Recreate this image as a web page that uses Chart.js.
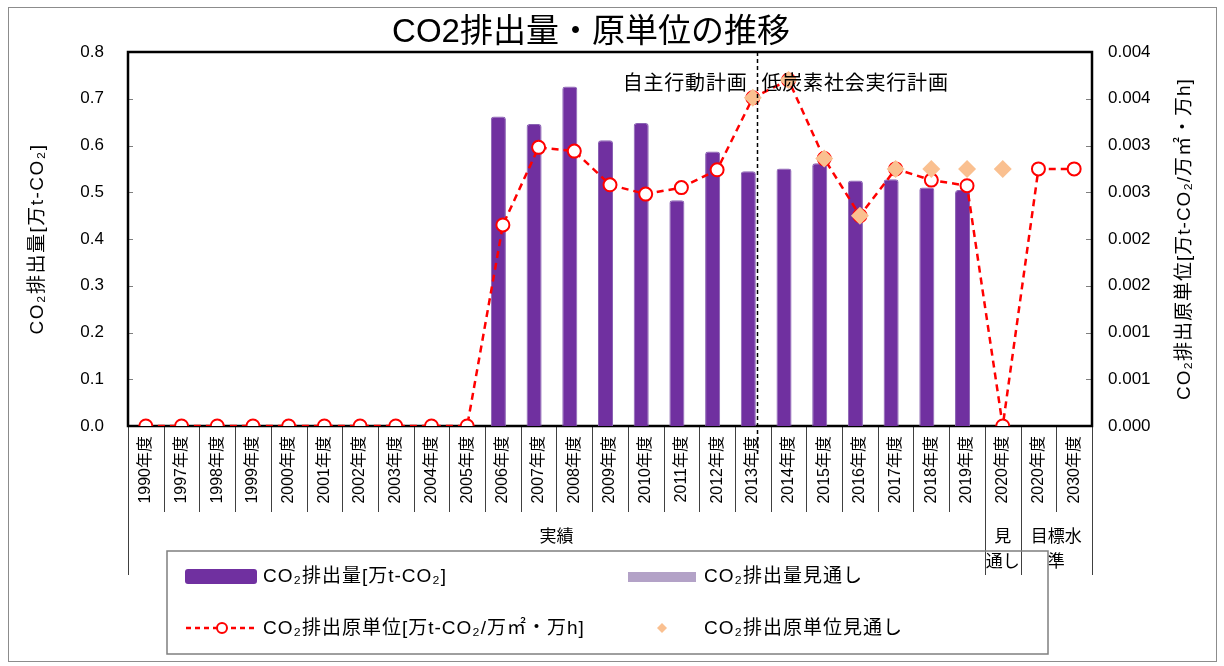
<!DOCTYPE html>
<html>
<head>
<meta charset="utf-8">
<script src="https://cdn.jsdelivr.net/npm/chart.js@4.4.0/dist/chart.umd.min.js"></script>
<style>
  html, body { margin: 0; padding: 0; background: #fff; }
  #wrap { width: 1224px; height: 666px; position: relative; }
</style>
</head>
<body>
<div id="wrap"><canvas id="myChart"></canvas></div>
<script>
// categories (fiscal years)
const categories = ['1990年度', '1997年度', '1998年度', '1999年度', '2000年度', '2001年度', '2002年度', '2003年度', '2004年度', '2005年度',
    '2006年度', '2007年度', '2008年度', '2009年度', '2010年度', '2011年度', '2012年度', '2013年度', '2014年度', '2015年度',
    '2016年度', '2017年度', '2018年度', '2019年度', '2020年度', '2020年度', '2030年度'];

// CO2 emissions [万t-CO2]
const emissions = [null, null, null, null, null, null, null, null, null, null,
    0.662, 0.646, 0.726, 0.611, 0.648, 0.483, 0.587, 0.545, 0.551, 0.562,
    0.525, 0.528, 0.510, 0.505, null, null, null];
const emissionsOutlook = [null, null, null, null, null, null, null, null, null, null,
    null, null, null, null, null, null, null, null, null, null,
    null, null, null, null, null, null, null];

// CO2 intensity
const intensity = [0, 0, 0, 0, 0, 0, 0, 0, 0, 0,
    0.00215, 0.00298, 0.00294, 0.00258, 0.00248, 0.00255, 0.00274, 0.00351, 0.00370, 0.00286,
    0.00225, 0.00275, 0.00263, 0.00257, 0, 0.00275, 0.00275];
const intensityOutlook = [null, null, null, null, null, null, null, null, null, null,
    null, null, null, null, null, null, null, 0.00351, 0.00370, 0.00286,
    0.00225, 0.00275, 0.00275, 0.00275, 0.00275, null, null];

// tick labels
const leftTickLabels = ['0.0', '0.1', '0.2', '0.3', '0.4', '0.5', '0.6', '0.7', '0.8'];
const rightTickLabels = ['0.000', '0.001', '0.001', '0.002', '0.002', '0.003', '0.003', '0.004', '0.004'];

// category groups under the axis
const groups = [
    { lines: ['実績'], from: 0, to: 23 },
    { lines: ['見', '通し'], from: 24, to: 24 },
    { lines: ['目標水', '準'], from: 25, to: 26 }
];

// plan phases split between 2013 and 2014
const phaseLabels = ['自主行動計画', '低炭素社会実行計画'];
const phaseBoundary = 17.13;

const FONT = '"Liberation Sans", "Noto Sans CJK JP", sans-serif';
const PURPLE = '#7030A0';
const LIGHT_PURPLE = '#B3A2C7';
const RED = '#FF0000';
const PEACH = '#FAC090';

const decor = {
    id: 'decor',
    beforeDatasetsDraw(chart) {
        const ctx = chart.ctx;
        const a = chart.chartArea;
        const x = chart.scales.x, y = chart.scales.y, y1 = chart.scales.y1;
        ctx.save();
        // outer border
        ctx.strokeStyle = '#8c8c8c';
        ctx.lineWidth = 1;
        ctx.strokeRect(8.5, 7.5, 1208, 654);

        // inner tick marks
        ctx.strokeStyle = '#7f7f7f';
        ctx.lineWidth = 1;
        y.ticks.forEach(t => {
            const py = Math.round(y.getPixelForValue(t.value)) + 0.5;
            ctx.beginPath(); ctx.moveTo(a.left, py); ctx.lineTo(a.left + 5, py); ctx.stroke();
        });
        y1.ticks.forEach(t => {
            const py = Math.round(y1.getPixelForValue(t.value)) + 0.5;
            ctx.beginPath(); ctx.moveTo(a.right - 6, py); ctx.lineTo(a.right, py); ctx.stroke();
        });

        // category separators
        ctx.strokeStyle = '#404040';
        const bounds = groups.map(g => g.from).concat([categories.length]);
        for (let i = 0; i <= categories.length; i++) {
            const px = Math.round(x.getPixelForValue(i - 0.5)) + 0.5;
            const long = bounds.indexOf(i) >= 0;
            ctx.beginPath();
            ctx.moveTo(px, a.bottom);
            ctx.lineTo(px, a.bottom + (long ? 149 : 86));
            ctx.stroke();
        }

        // group labels
        ctx.fillStyle = '#000';
        ctx.font = '17px ' + FONT;
        ctx.textAlign = 'center';
        ctx.textBaseline = 'middle';
        groups.forEach(g => {
            const cx = (x.getPixelForValue(g.from - 0.5) + x.getPixelForValue(g.to + 0.5)) / 2;
            g.lines.forEach((ln, k) => ctx.fillText(ln, cx, a.bottom + 111 + k * 25));
        });

        // plot frame
        ctx.strokeStyle = '#000';
        ctx.lineWidth = 2.5;
        ctx.strokeRect(a.left, a.top, a.right - a.left, a.bottom - a.top);

        // axis titles
        ctx.font = '19px ' + FONT;
        ctx.textAlign = 'center';
        ctx.textBaseline = 'middle';
        const cy = (a.top + a.bottom) / 2;
        ctx.save();
        ctx.letterSpacing = '1.5px';
        ctx.translate(a.left - 90, cy);
        ctx.rotate(-Math.PI / 2);
        ctx.fillText('CO₂排出量[万t-CO₂]', 0, 0);
        ctx.restore();
        ctx.save();
        ctx.letterSpacing = '1px';
        ctx.translate(a.right + 93, cy);
        ctx.rotate(-Math.PI / 2);
        ctx.fillText('CO₂排出原単位[万t-CO₂/万㎡・万h]', 0, 0);
        ctx.restore();

        // title
        ctx.font = '33px ' + FONT;
        ctx.fillText('CO2排出量・原単位の推移', 591, 33);
        ctx.restore();
    },
    afterDatasetsDraw(chart) {
        const ctx = chart.ctx;
        const a = chart.chartArea;
        const x = chart.scales.x;
        ctx.save();
        // phase boundary
        const bx = Math.round(x.getPixelForValue(phaseBoundary)) + 0.5;
        ctx.strokeStyle = '#000';
        ctx.lineWidth = 1.5;
        ctx.setLineDash([4, 3]);
        ctx.beginPath(); ctx.moveTo(bx, a.top); ctx.lineTo(bx, a.bottom + 28); ctx.stroke();
        ctx.setLineDash([]);
        ctx.fillStyle = '#000';
        ctx.font = '20px ' + FONT;
        ctx.letterSpacing = '0.8px';
        ctx.textBaseline = 'middle';
        ctx.textAlign = 'right';
        ctx.fillText(phaseLabels[0], bx - 10, a.top + 32);
        ctx.textAlign = 'left';
        ctx.fillText(phaseLabels[1], bx + 4, a.top + 32);

        // legend
        const ds = chart.data.datasets;
        ctx.strokeStyle = '#7f7f7f';
        ctx.lineWidth = 1.5;
        ctx.strokeRect(167, 551, 881, 103);
        ctx.font = '19px ' + FONT;
        ctx.letterSpacing = '1px';
        ctx.textAlign = 'left';
        ctx.fillStyle = PURPLE;
        ctx.beginPath(); ctx.roundRect(185, 569, 72, 15, 3); ctx.fill();
        ctx.fillStyle = LIGHT_PURPLE;
        ctx.fillRect(628, 572, 68, 10);
        ctx.strokeStyle = RED;
        ctx.lineWidth = 2.5;
        ctx.setLineDash([5, 4]);
        ctx.beginPath(); ctx.moveTo(186, 628); ctx.lineTo(256, 628); ctx.stroke();
        ctx.setLineDash([]);
        ctx.fillStyle = '#fff';
        ctx.lineWidth = 2;
        ctx.beginPath(); ctx.arc(222, 628, 5, 0, Math.PI * 2); ctx.fill(); ctx.stroke();
        ctx.fillStyle = PEACH;
        ctx.beginPath();
        ctx.moveTo(662, 623); ctx.lineTo(667, 628); ctx.lineTo(662, 633); ctx.lineTo(657, 628);
        ctx.closePath(); ctx.fill();
        ctx.fillStyle = '#000';
        ctx.fillText(ds[2].label, 263, 577);
        ctx.fillText(ds[3].label, 704, 577);
        ctx.fillText(ds[1].label, 263, 629);
        ctx.fillText(ds[0].label, 704, 629);
        ctx.restore();
    }
};

new Chart(document.getElementById('myChart'), {
    type: 'bar',
    data: {
        labels: categories,
        datasets: [
            {
                type: 'line',
                label: 'CO₂排出原単位見通し',
                data: intensityOutlook,
                yAxisID: 'y1',
                showLine: false,
                pointStyle: 'rectRot',
                pointRadius: 9,
                pointBackgroundColor: PEACH,
                pointBorderWidth: 0,
                order: 0
            },
            {
                type: 'line',
                label: 'CO₂排出原単位[万t-CO₂/万㎡・万h]',
                data: intensity,
                yAxisID: 'y1',
                borderColor: RED,
                borderWidth: 2.5,
                borderDash: [7, 5],
                pointRadius: 6.5,
                pointBackgroundColor: '#fff',
                pointBorderColor: RED,
                pointBorderWidth: 2,
                order: 1
            },
            {
                label: 'CO₂排出量[万t-CO₂]',
                data: emissions,
                backgroundColor: PURPLE,
                borderColor: '#8a63b3',
                borderWidth: 1,
                borderRadius: 3,
                borderSkipped: 'bottom',
                barPercentage: 1.67,
                categoryPercentage: 0.504,
                order: 2
            },
            {
                label: 'CO₂排出量見通し',
                data: emissionsOutlook,
                backgroundColor: LIGHT_PURPLE,
                barPercentage: 1.67,
                categoryPercentage: 0.504,
                order: 3
            }
        ]
    },
    options: {
        responsive: true,
        maintainAspectRatio: false,
        animation: false,
        devicePixelRatio: 1,
        layout: { padding: { top: 52, left: 0, right: 0, bottom: 0 } },
        plugins: {
            legend: { display: false },
            title: { display: false },
            tooltip: { enabled: false }
        },
        scales: {
            x: {
                offset: true,
                grid: { display: false, drawTicks: false },
                border: { display: false },
                ticks: {
                    autoSkip: false,
                    minRotation: 90,
                    maxRotation: 90,
                    padding: 10,
                    color: '#000',
                    font: { size: 16, family: FONT }
                },
                afterFit: s => { s.height = 240; }
            },
            y: {
                position: 'left',
                min: 0,
                max: 0.8,
                grid: { display: false, drawTicks: false },
                border: { display: false },
                ticks: {
                    stepSize: 0.1,
                    padding: 24,
                    color: '#000',
                    font: { size: 17, family: FONT },
                    callback: (v, i) => leftTickLabels[i]
                },
                afterFit: s => { s.width = 128; }
            },
            y1: {
                position: 'right',
                min: 0,
                max: 0.004,
                grid: { display: false, drawTicks: false },
                border: { display: false },
                ticks: {
                    stepSize: 0.0005,
                    padding: 16,
                    color: '#000',
                    font: { size: 17, family: FONT },
                    callback: (v, i) => rightTickLabels[i]
                },
                afterFit: s => { s.width = 132; }
            }
        }
    },
    plugins: [decor]
});
</script>
</body>
</html>
